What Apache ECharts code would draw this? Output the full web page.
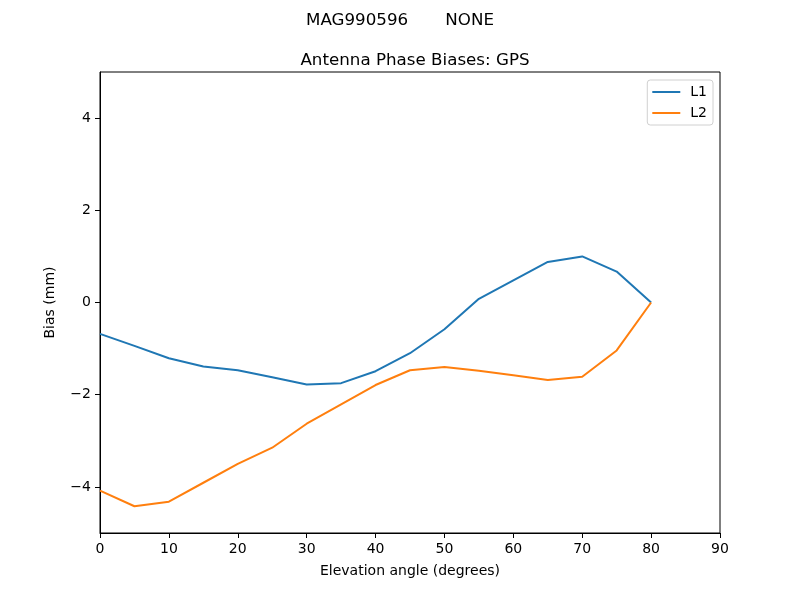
<!DOCTYPE html>
<html><head><meta charset="utf-8">
<script src="https://cdn.jsdelivr.net/npm/echarts@6/dist/echarts.min.js"></script>
<style>html,body{margin:0;padding:0;background:#fff}#c{width:800px;height:600px}</style>
</head><body><div id="c"></div>
<script>
const elevation = [0,5,10,15,20,25,30,35,40,45,50,55,60,65,70,75,80];
const L1 = [-0.68,-0.94,-1.21,-1.39,-1.47,-1.62,-1.78,-1.75,-1.49,-1.10,-0.58,0.08,0.48,0.88,1.00,0.67,0.0];
const L2 = [-4.08,-4.42,-4.32,-3.91,-3.50,-3.15,-2.63,-2.21,-1.79,-1.47,-1.40,-1.48,-1.58,-1.68,-1.61,-1.04,0.0];
const xTicks = [0,10,20,30,40,50,60,70,80,90];
const yTicks = [-4,-2,0,2,4];
const FONT = 'DejaVu Sans';
const fmt = v => String(v).replace('-', '\u2212');
const chart = echarts.init(document.getElementById('c'), null, {renderer:'canvas'});
chart.setOption({
  animation: false,
  backgroundColor: '#fff',
  textStyle: {fontFamily: FONT},
  title: [
    {text: 'MAG990596       NONE', left: 'center', top: 7, textStyle:{fontFamily:FONT, fontSize:16.7, fontWeight:'normal', color:'#000'}},
    {text: 'Antenna Phase Biases: GPS', left: 410, textAlign: 'center', top: 47, textStyle:{fontFamily:FONT, fontSize:16.7, fontWeight:'normal', color:'#000'}}
  ],
  legend: {
    orient: 'vertical', right: 87, top: 80,
    itemWidth: 28, itemHeight: 2, itemGap: 7,
    borderColor: '#d0d0d0', borderWidth: 1, borderRadius: 3,
    padding: [5, 6, 5, 5],
    textStyle: {fontFamily: FONT, fontSize: 14, color: '#000', padding: [0,0,0,5]},
    icon: 'rect',
    data: ['L1','L2']
  },
  grid: {left: 100, right: 80, top: 72, bottom: 67, show: true, borderColor: '#000', borderWidth: 1, backgroundColor: 'transparent'},
  xAxis: {
    type: 'value', min: 0, max: 90, interval: 10,
    name: 'Elevation angle (degrees)', nameLocation: 'middle', nameGap: 31,
    nameTextStyle: {fontFamily: FONT, fontSize: 14, color: '#000'},
    axisLine: {show: true, onZero: false, lineStyle: {color: '#000', width: 1}},
    axisTick: {show: true, inside: false, length: 5, customValues: xTicks, lineStyle: {color: '#000'}},
    axisLabel: {fontFamily: FONT, fontSize: 14, color: '#000', margin: 9, customValues: xTicks, formatter: fmt},
    splitLine: {show: false}
  },
  yAxis: {
    type: 'value', min: -5, max: 5, interval: 1,
    name: 'Bias (mm)', nameLocation: 'middle', nameGap: 43, nameRotate: 90,
    nameTextStyle: {fontFamily: FONT, fontSize: 14, color: '#000'},
    axisLine: {show: true, onZero: false, lineStyle: {color: '#000', width: 1}},
    axisTick: {show: true, inside: false, length: 5, customValues: yTicks, lineStyle: {color: '#000'}},
    axisLabel: {fontFamily: FONT, fontSize: 14, color: '#000', margin: 9, customValues: yTicks, formatter: fmt},
    splitLine: {show: false}
  },
  series: [
    {name: 'L1', type: 'line', data: elevation.map((e,i)=>[e, L1[i]]), showSymbol: false, symbol: 'none',
     lineStyle: {color: '#1f77b4', width: 2}, itemStyle: {color: '#1f77b4'}},
    {name: 'L2', type: 'line', data: elevation.map((e,i)=>[e, L2[i]]), showSymbol: false, symbol: 'none',
     lineStyle: {color: '#ff7f0e', width: 2}, itemStyle: {color: '#ff7f0e'}}
  ]
});
</script></body></html>
